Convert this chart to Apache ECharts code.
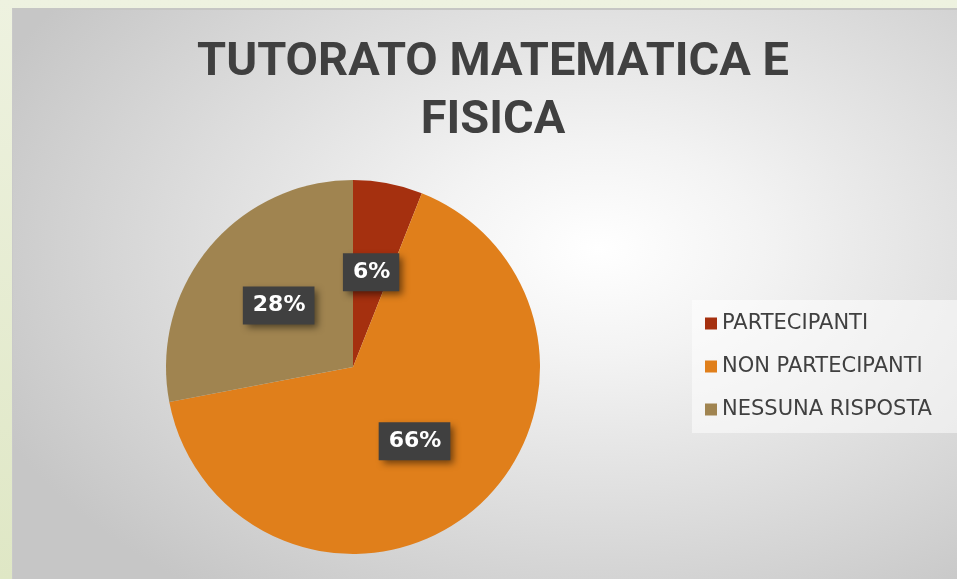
<!DOCTYPE html>
<html>
<head>
<meta charset="utf-8">
<script src="https://cdn.jsdelivr.net/npm/echarts@6/dist/echarts.min.js"></script>
<style>
  html, body { margin: 0; padding: 0; }
  body {
    width: 957px; height: 579px; overflow: hidden; position: relative;
    background: linear-gradient(#eef2e0, #dfe7c5);
  }
  .panel {
    position: absolute; left: 12px; top: 8px; right: 0; bottom: 0;
    border-top: 2px solid #c6c6c4; border-left: 1px solid #c9c9c9;
    background: radial-gradient(ellipse 70% 75% at 62% 42%, #ffffff 0%, #f3f3f3 25%, #dedede 60%, #c6c6c6 100%);
  }
  #chart { position: absolute; left: 0; top: 0; width: 957px; height: 579px; }
</style>
</head>
<body>
<div class="panel"></div>
<div id="chart"></div>
<script>
const categories = ["PARTECIPANTI", "NON PARTECIPANTI", "NESSUNA RISPOSTA"];
const values = [6, 66, 28];
const colors = ["#a5300f", "#e07f1b", "#a08450"];

let myChart = echarts.init(document.getElementById("chart"));
let option = {
  animation: false,
  title: {
    text: "TUTORATO MATEMATICA E\nFISICA",
    left: 493,
    top: 34,
    padding: 0,
    textAlign: "center",
    textStyle: {
      fontFamily: "Roboto",
      fontWeight: "bold",
      fontSize: 47,
      lineHeight: 58,
      color: "#404040"
    }
  },
  legend: {
    orient: "vertical",
    left: 692,
    top: 300,
    padding: [13, 30, 13, 13],
    backgroundColor: "rgba(255,255,255,0.5)",
    icon: "rect",
    itemWidth: 12,
    itemHeight: 12,
    itemGap: 22,
    itemTextGap: 7,
    data: categories,
    textStyle: {
      fontFamily: "DejaVu Sans",
      fontSize: 21,
      lineHeight: 21,
      color: "#404040"
    }
  },
  series: [
    {
      type: "pie",
      center: [353, 367],
      radius: 187,
      startAngle: 90,
      clockwise: true,
      silent: true,
      color: colors,
      label: {
        show: true,
        position: "inside",
        formatter: "{d}%",
        fontFamily: "DejaVu Sans",
        fontWeight: "bold",
        fontSize: 22,
        lineHeight: 22,
        color: "#ffffff",
        backgroundColor: "#404040",
        padding: [8, 9, 8, 10],
        shadowColor: "rgba(0,0,0,0.5)",
        shadowBlur: 7,
        shadowOffsetX: 4,
        shadowOffsetY: 4
      },
      labelLine: { show: false },
      data: categories.map((name, i) => ({ name: name, value: values[i] }))
    }
  ]
};
myChart.setOption(option);
</script>
</body>
</html>
